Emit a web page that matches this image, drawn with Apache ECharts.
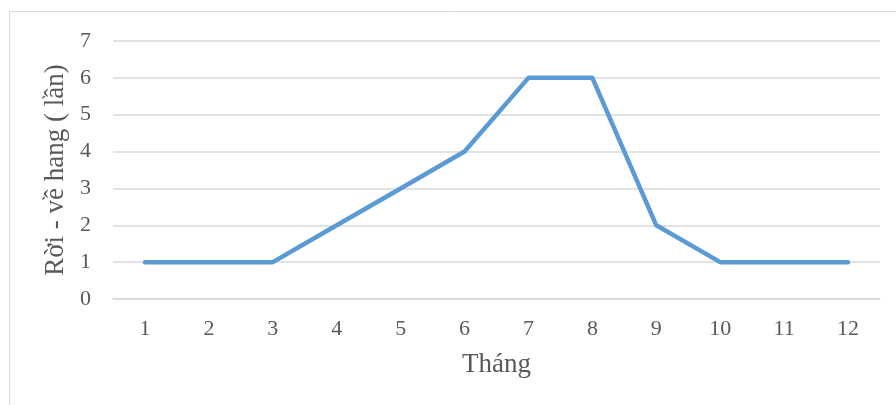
<!DOCTYPE html>
<html><head><meta charset="utf-8">
<script src="https://cdn.jsdelivr.net/npm/echarts@6/dist/echarts.min.js"></script>
<style>html,body{margin:0;padding:0;background:#fff}#c{width:896px;height:405px}</style>
</head><body><div id="c"></div>
<script>
var categories = ['1','2','3','4','5','6','7','8','9','10','11','12'];
var values = [1,1,1,2,3,4,6,6,2,1,1,1];
var xName = 'Tháng';
var yName = 'Rời - về hang ( lần)';
var chart = echarts.init(document.getElementById('c'));
var font = '"Liberation Serif", "Times New Roman", serif';
chart.setOption({
  animation: false,
  graphic: [{type:'rect', shape:{x:9.5,y:11.5,width:900,height:420}, style:{fill:'none',stroke:'#d9d9d9',lineWidth:1}}],
  grid: {left:113, right:16, top:41, bottom:106},
  xAxis: {
    type:'category', data:categories, boundaryGap:true,
    name:xName, nameLocation:'middle', nameGap:52,
    nameTextStyle:{fontFamily:font,fontSize:27,color:'#595959'},
    axisLine:{lineStyle:{color:'#d9d9d9',width:1.5}},
    axisTick:{show:false},
    axisLabel:{fontFamily:font,fontSize:22,color:'#595959',margin:19}
  },
  yAxis: {
    type:'value', min:0, max:7, interval:1,
    name:yName, nameLocation:'middle', nameGap:44,
    nameTextStyle:{fontFamily:font,fontSize:27,color:'#595959'},
    axisLine:{show:false}, axisTick:{show:false},
    axisLabel:{fontFamily:font,fontSize:22,color:'#595959',margin:22},
    splitLine:{lineStyle:{color:'#d9d9d9',width:1.5}}
  },
  series: [{
    type:'line', data:values, symbol:'none',
    lineStyle:{color:'#5b9bd5',width:4.5,cap:'round',join:'round'}
  }]
});
</script></body></html>
